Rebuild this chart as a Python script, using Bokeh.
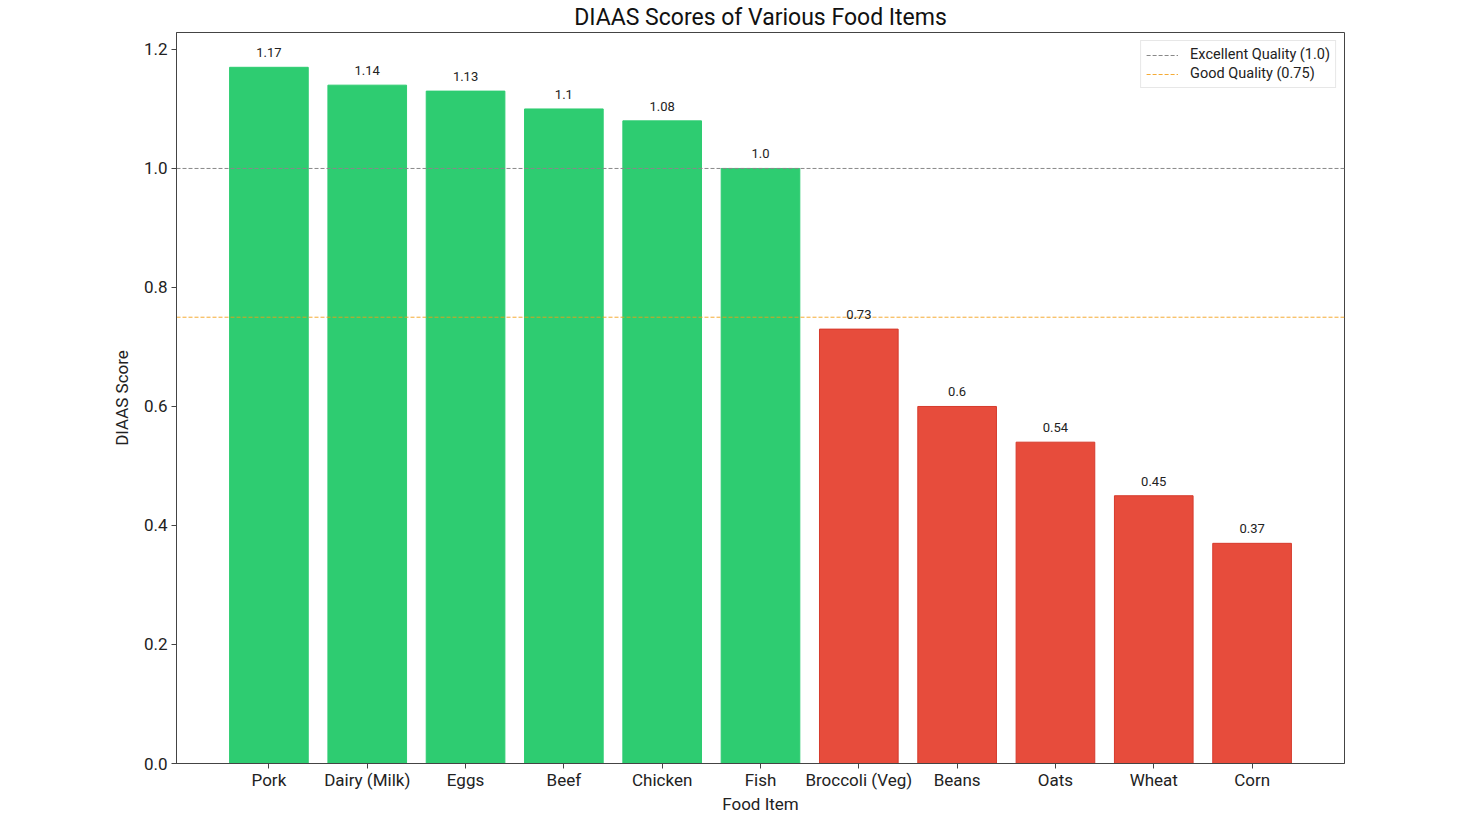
from bokeh.plotting import figure
from bokeh.models import Range1d, FixedTicker, ColumnDataSource, LabelSet, Legend, LegendItem, NumeralTickFormatter
from bokeh.core.properties import value
from bokeh.embed import file_html
from bokeh.resources import INLINE

foods = ["Pork", "Dairy (Milk)", "Eggs", "Beef", "Chicken", "Fish",
         "Broccoli (Veg)", "Beans", "Oats", "Wheat", "Corn"]
scores = [1.17, 1.14, 1.13, 1.10, 1.08, 1.00, 0.73, 0.60, 0.54, 0.45, 0.37]
score_labels = ["1.17", "1.14", "1.13", "1.1", "1.08", "1.0", "0.73", "0.6", "0.54", "0.45", "0.37"]
excellent = 1.0
good = 0.75

GREEN = "#2ecc71"
RED = "#e74c3c"
FONT = "Roboto"
X_LO, X_HI = -0.94, 10.94

idx = list(range(len(foods)))
colors = [GREEN if s >= good else RED for s in scores]
edges = [GREEN if s >= good else "#d63a2c" for s in scores]

src = ColumnDataSource(dict(x=idx, top=scores, color=colors, edge=edges, lab=score_labels))

p = figure(width=1444, height=816, output_backend="svg", toolbar_location=None,
           x_range=Range1d(X_LO, X_HI), y_range=Range1d(0, 1.2285),
           min_border_left=176, min_border_right=100, min_border_top=32, min_border_bottom=53)

p.vbar(x="x", top="top", width=0.8, bottom=0, fill_color="color", line_color="edge",
       line_width=1, source=src)

labels = LabelSet(x="x", y="top", text="lab", source=src, text_align="center",
                  text_baseline="bottom", y_offset=10, text_font=value(FONT),
                  text_font_size=value("13px"), text_color="#222222")
p.add_layout(labels)

GRAY_LINE = "#888888"
ORANGE_LINE = "#f39c12"
r1 = p.line(x=[X_LO, X_HI], y=[excellent, excellent], line_color=GRAY_LINE,
            line_dash="4 2", line_width=1)
r2 = p.line(x=[X_LO, X_HI], y=[good, good], line_color=ORANGE_LINE,
            line_dash="4 2", line_width=1, line_alpha=0.85)

legend = Legend(items=[LegendItem(label="Excellent Quality (1.0)", renderers=[r1]),
                       LegendItem(label="Good Quality (0.75)", renderers=[r2])],
                location="top_right", label_text_font=FONT, label_text_font_size="14.5px",
                label_text_color="#222222", border_line_color="#d0d0d0", border_line_width=1,
                background_fill_alpha=0.9, margin=8, padding=5, spacing=2,
                glyph_width=32, glyph_height=16, label_height=16, label_standoff=12)
p.add_layout(legend)

p.title.text = "DIAAS Scores of Various Food Items"
p.title.align = "center"
p.title.text_font = FONT
p.title.text_font_size = "23px"
p.title.text_font_style = "normal"
p.title.text_color = "#111111"
p.title.offset = 0
p.title.standoff = 3

p.xaxis.ticker = FixedTicker(ticks=idx)
p.xaxis.major_label_overrides = {i: f for i, f in enumerate(foods)}
p.yaxis.ticker = FixedTicker(ticks=[0.0, 0.2, 0.4, 0.6, 0.8, 1.0, 1.2])
p.yaxis.formatter = NumeralTickFormatter(format="0.0")
p.xaxis.axis_label = "Food Item"
p.yaxis.axis_label = "DIAAS Score"

for ax in (p.xaxis, p.yaxis):
    ax.axis_label_text_font = FONT
    ax.axis_label_text_font_size = "17px"
    ax.axis_label_text_font_style = "normal"
    ax.axis_label_text_color = "#222222"
    ax.major_label_text_font = FONT
    ax.major_label_text_font_size = "17px"
    ax.major_label_text_color = "#222222"
    ax.axis_line_color = "#444444"
    ax.major_tick_line_color = "#444444"
    ax.major_tick_out = 5
    ax.major_tick_in = 0
    ax.minor_tick_line_color = None

p.xaxis.major_label_standoff = 1
p.yaxis.major_label_standoff = 4
p.xaxis.axis_label_standoff = 1
p.yaxis.axis_label_standoff = 9

p.xgrid.grid_line_color = None
p.ygrid.grid_line_color = None
p.outline_line_color = "#444444"
p.outline_line_alpha = 1

open("out.html", "w").write(file_html(p, INLINE))
